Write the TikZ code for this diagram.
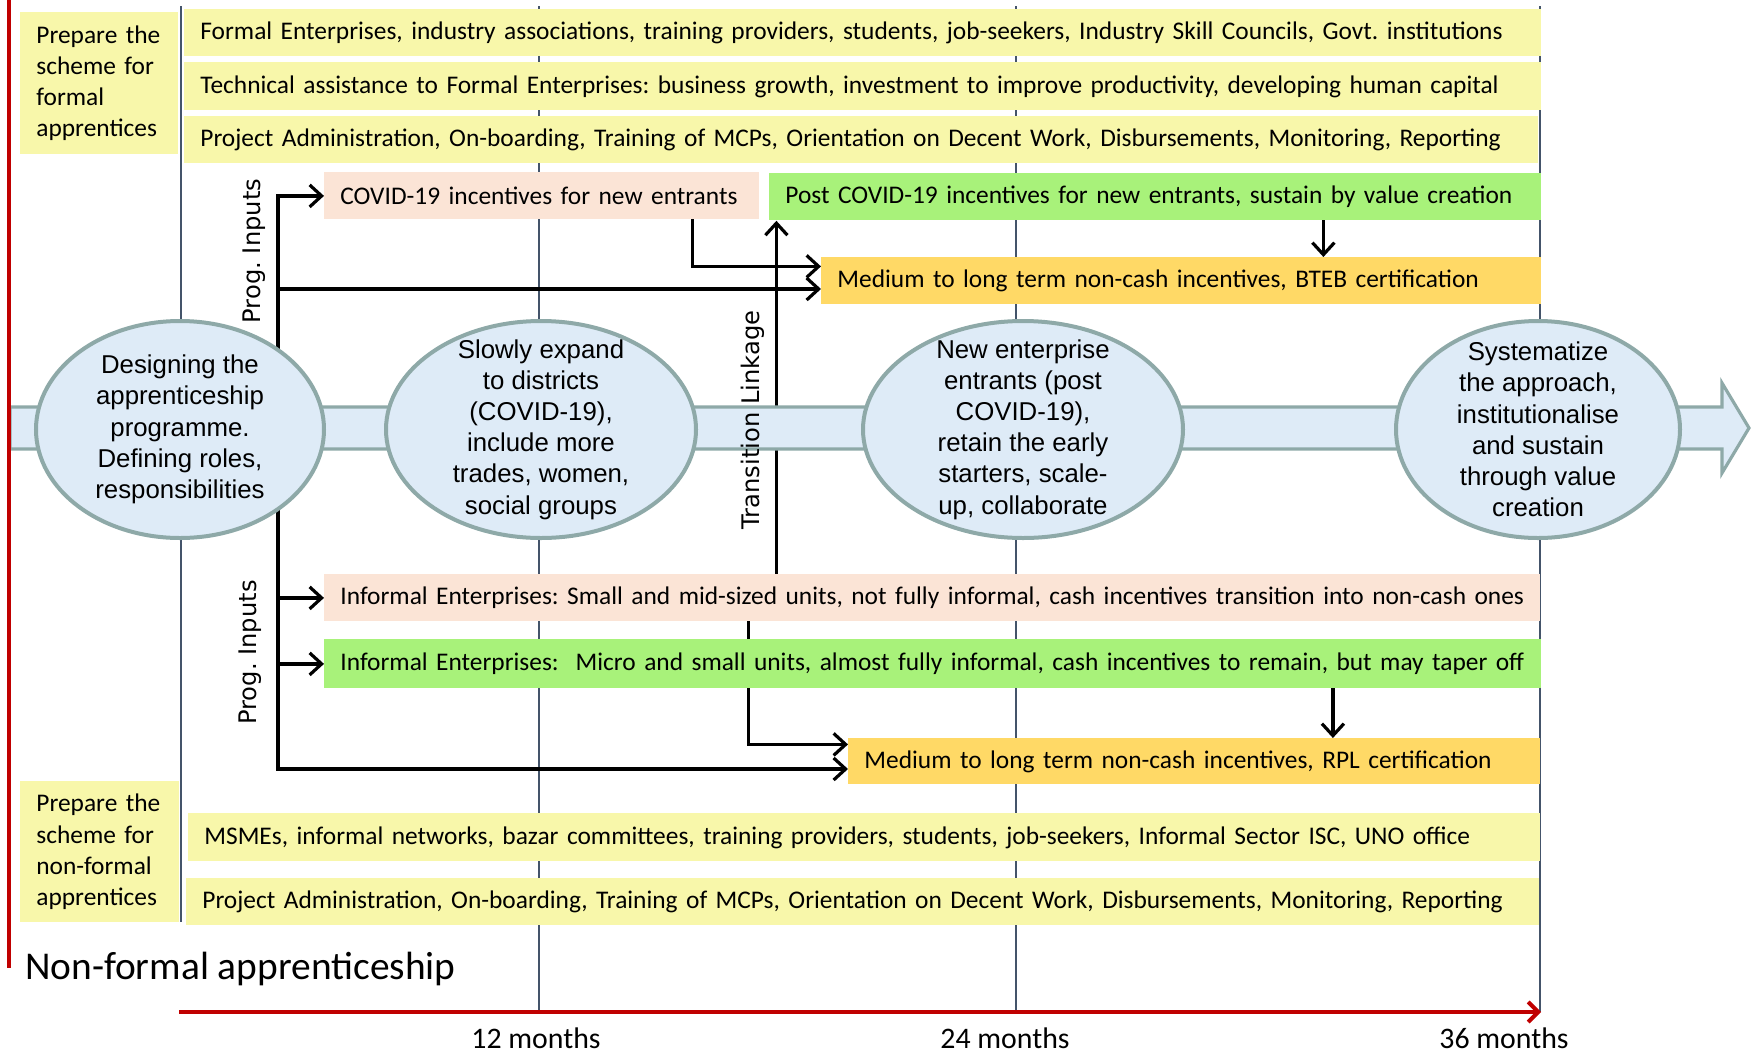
\documentclass[tikz,border=0pt]{standalone}
\usepackage{fontspec}
\setmainfont{Carlito}
\newfontfamily\stagefont{Liberation Sans}
\newfontfamily\sidefont{DejaVu Sans}
\usetikzlibrary{arrows.meta,shapes.geometric,calc}
\frenchspacing

\definecolor{barYellow}{HTML}{F8F7AA}
\definecolor{barPink}{HTML}{FBE4D6}
\definecolor{barGreen}{HTML}{A8F27A}
\definecolor{barGold}{HTML}{FFD966}
\definecolor{stageFill}{HTML}{DEEBF7}
\definecolor{stageLine}{HTML}{8EA9A8}
\definecolor{gridGray}{HTML}{44546A}
\definecolor{timeRed}{HTML}{C00000}

\pgfdeclarelayer{grid}
\pgfdeclarelayer{links}
\pgfsetlayers{grid,links,main}

\tikzset{
  bar/.style={anchor=north west, inner xsep=8pt, inner ysep=0pt, align=left,
    font=\fontsize{12.7}{15.6}\selectfont},
  yelbar/.style={bar, fill=barYellow},
  pinkbar/.style={bar, fill=barPink},
  greenbar/.style={bar, fill=barGreen},
  goldbar/.style={bar, fill=barGold},
  stage/.style={ellipse, draw=stageLine, line width=2pt, fill=stageFill, inner sep=0pt},
  stagetext/.style={align=center, font=\stagefont\fontsize{12.9}{15.6}\selectfont},
  link/.style={line width=1.6pt, line cap=rect, -{Straight Barb[length=6pt,width=11pt]}},
  gridline/.style={gridGray, line width=0.8pt},
  sidelabel/.style={rotate=90, font=\sidefont\fontsize{12.1}{14}\selectfont},
  monthlabel/.style={inner sep=0pt, font=\fontsize{14.9}{18}\selectfont},
}

\begin{document}
\begin{tikzpicture}[x=0.5pt, y=-0.5pt]
\useasboundingbox (0,0) rectangle (1751,1055);

% month grid
\begin{pgfonlayer}{grid}
\draw[gridline] (181,6) -- (181,922);
\foreach \gx in {539,1016,1540}
  \draw[gridline] (\gx,6) -- (\gx,1012);
\end{pgfonlayer}

% formal apprentices
\node[yelbar, text width=63pt, minimum height=71pt] (formalTag) at (20,12) {Prepare the\\scheme for\\formal\\apprentices};
\node[yelbar, text width=662.5pt, minimum height=23.5pt] (formalWho) at (184,9) {\mbox{Formal Enterprises, industry associations, training providers, students, job-seekers, Industry Skill Councils, Govt. institutions}};
\node[yelbar, text width=662.5pt, minimum height=24pt] (formalHelp) at (184,62) {\mbox{Technical assistance to Formal Enterprises: business growth, investment to improve productivity, developing human capital}};
\node[yelbar, text width=661pt, minimum height=23.5pt] (formalAdmin) at (184,116) {\mbox{Project Administration, On-boarding, Training of MCPs, Orientation on Decent Work, Disbursements, Monitoring, Reporting}};

% incentives, formal
\node[pinkbar, text width=201.5pt, minimum height=23.5pt] (covid) at (324,172) {COVID-19 incentives for new entrants};
\node[greenbar, text width=370pt, minimum height=23.5pt] (postcovid) at (769,173) {\mbox{Post COVID-19 incentives for new entrants, sustain by value creation}};
\node[goldbar, text width=344pt, minimum height=23.5pt] (bteb) at (821,257) {Medium to long term non-cash incentives, BTEB certification};

% timeline band
\draw[fill=stageFill, draw=stageLine, line width=1.6pt] (10,407) -- (1722,407) -- (1722,383) -- (1749,428) -- (1722,473) -- (1722,449) -- (10,449) -- cycle;

% stages
\node[stage, minimum width=144pt, minimum height=108.5pt] (design) at (180,429.5) {};
\node[stagetext] (designText) at (design) {Designing the\\apprenticeship\\programme.\\Defining roles,\\responsibilities};
\node[stage, minimum width=155pt, minimum height=108.5pt] (expand) at (541,429.5) {};
\node[stagetext] (expandText) at (expand) {Slowly expand\\to districts\\(COVID-19),\\include more\\trades, women,\\social groups};
\node[stage, minimum width=160pt, minimum height=108.5pt] (entrants) at (1023,429.5) {};
\node[stagetext] (entrantsText) at (entrants) {New enterprise\\entrants (post\\COVID-19),\\retain the early\\starters, scale-\\up, collaborate};
\node[stage, minimum width=142pt, minimum height=108.5pt] (sustain) at (1538,429.5) {};
\node[stagetext] (sustainText) at (sustain) {Systematize\\the approach,\\institutionalise\\and sustain\\through value\\creation};

% incentives, informal
\node[pinkbar, text width=592pt, minimum height=23.5pt] (informA) at (324,574) {\mbox{Informal Enterprises: Small and mid-sized units, not fully informal, cash incentives transition into non-cash ones}};
\node[greenbar, text width=592.5pt, minimum height=24.5pt] (informB) at (324,639) {\mbox{Informal Enterprises:\ \ Micro and small units, almost fully informal, cash incentives to remain, but may taper off}};
\node[goldbar, text width=330pt, minimum height=23pt] (rpl) at (848,738) {Medium to long term non-cash incentives, RPL certification};

% non-formal apprentices
\node[yelbar, text width=63.5pt, minimum height=70.5pt] (informalTag) at (20,781) {Prepare the\\scheme for\\non-formal\\apprentices};
\node[yelbar, text width=660pt, minimum height=24pt] (informalWho) at (188,813) {\mbox{MSMEs, informal networks, bazar committees, training providers, students, job-seekers, Informal Sector ISC, UNO office}};
\node[yelbar, text width=660.5pt, minimum height=23.5pt] (informalAdmin) at (186,878) {\mbox{Project Administration, On-boarding, Training of MCPs, Orientation on Decent Work, Disbursements, Monitoring, Reporting}};

% connectors
\begin{pgfonlayer}{links}
\coordinate (spineBot) at (278,769);
\coordinate (spineMid) at (278,289);
\draw[link] (spineBot) |- (covid.west);
\draw[link] (spineMid) -- (spineMid -| bteb.west);
\coordinate (covidOut) at ($(covid.south east)+(-67,0)$);
\draw[link] (covidOut) |- ($(bteb.west)+(0,-14.5)$);
\coordinate (postOut) at ($(postcovid.south)+(168,0)$);
\draw[link] (postOut) -- (postOut |- bteb.north);
\coordinate (linkOut) at ($(informA.north)+(-156,0)$);
\draw[link] (linkOut) -- (linkOut |- postcovid.south);
\draw[link] (spineBot |- informA.west) -- (informA.west);
\draw[link] (spineBot |- informB.west) -- (informB.west);
\draw[link] (spineBot) -- (spineBot -| rpl.west);
\coordinate (informOut) at ($(informA.south)+(-184,0)$);
\draw[link] (informOut) |- ($(rpl.west)+(0,-17)$);
\coordinate (microOut) at ($(informB.south)+(400,0)$);
\draw[link] (microOut) -- (microOut |- rpl.north);
\end{pgfonlayer}

% side labels
\node[sidelabel] (progUp) at (254,251) {Prog. Inputs};
\node[sidelabel] (progDown) at (250,652.5) {Prog. Inputs};
\node[sidelabel] (linkLabel) at (753,420) {Transition Linkage};

% time axis
\draw[timeRed, line width=2pt] (9,0) -- (9,968);
\draw[timeRed, line width=2pt, -{Straight Barb[length=5pt,width=10pt]}] (179,1012) -- (1541,1012);
\node[anchor=west, inner sep=0pt, font=\fontsize{19.7}{24}\selectfont] (nfTitle) at (25,969) {Non-formal apprenticeship};
\node[monthlabel] (m12) at (536,1038) {12 months};
\node[monthlabel] (m24) at (1005,1038) {24 months};
\node[monthlabel] (m36) at (1504,1038) {36 months};

\end{tikzpicture}
\end{document}
